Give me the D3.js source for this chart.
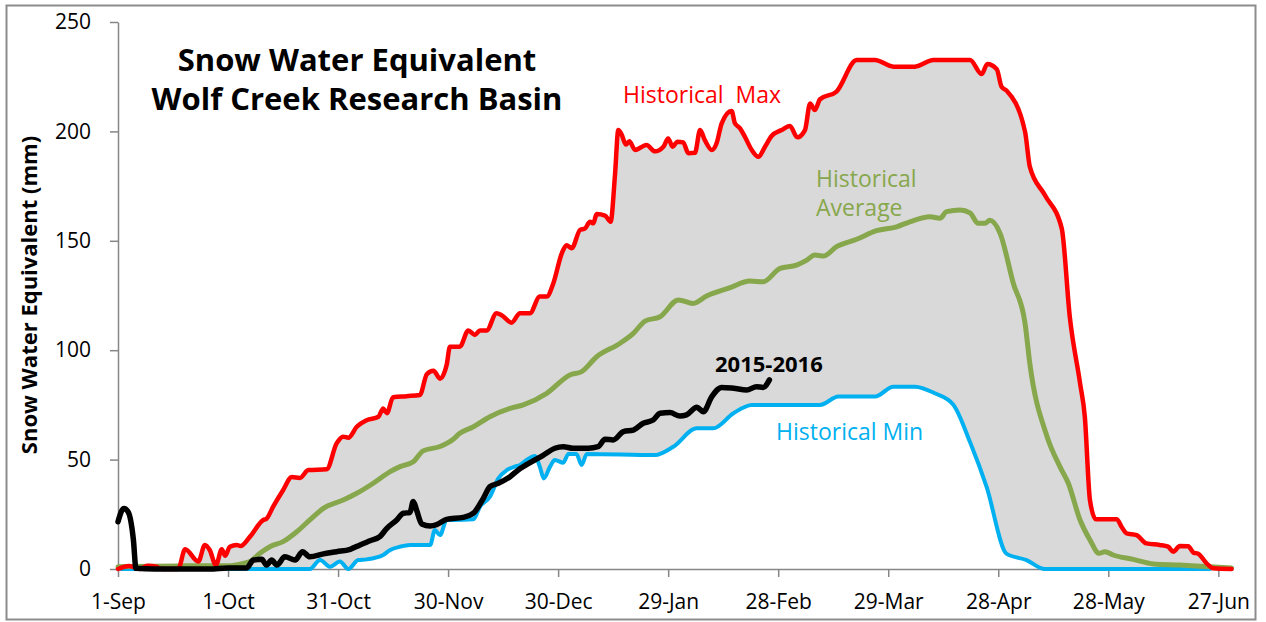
<!DOCTYPE html>
<html lang="en">
<head>
<meta charset="UTF-8">
<title>Snow Water Equivalent - Wolf Creek Research Basin</title>
<script src="https://cdn.jsdelivr.net/npm/d3@7"></script>
<style>
  * { margin: 0; padding: 0; }
  body { background: #fff; }
  svg text { font-family: "Open Sans", Lato, sans-serif; }
</style>
</head>
<body>
<script>
// days counted from 1-Sep-2015, SWE in mm
const dayTicks = [0, 30, 60, 90, 120, 150, 180, 210, 240, 270, 300];
const dayLabels = ["1-Sep", "1-Oct", "31-Oct", "30-Nov", "30-Dec", "29-Jan", "28-Feb", "29-Mar", "28-Apr", "28-May", "27-Jun"];
const sweTicks = [0, 50, 100, 150, 200, 250];

const histMax = [[0,0],[3,1.4],[6,0],[8,1.5],[10.5,1],[12,0],[16.4,0],[18.3,9],[21.9,3.4],[23.7,11],[25,8.7],[26.7,1.8],[28.3,9],[29.2,6],[30.5,10.2],[32.4,11],[33.4,10.5],[36,14.8],[39.6,22.4],[40.5,23],[42.3,28.5],[45,36],[47.4,42],[49.6,41.6],[51.9,45.2],[56.9,45.6],[59.6,57.4],[61.4,60.5],[62.8,60],[65.1,65],[67.8,68],[71,69.6],[72.3,73.4],[73.3,71.2],[75,78.5],[78.7,79],[82.3,79.5],[84.2,89],[86,90.6],[87.8,87],[89.6,93.2],[90.5,101.6],[93.2,101.6],[95.5,109],[97.3,107],[98.7,109],[100.5,109],[103.2,116.9],[104.6,116],[107.3,112.6],[109.6,116.9],[112.3,116.9],[115,124.5],[116.9,124.5],[118.7,130.6],[121,144.3],[122.3,148],[123.7,146.6],[126,155],[127.3,155.6],[128.7,158.7],[129.6,158],[130.5,162.2],[132.8,161.5],[134.3,158.7],[135.5,180],[136.4,200.6],[137.2,199],[138.5,194],[139.4,195.5],[141,191.5],[144.1,193.8],[146.4,190.9],[148.7,193],[150,196.8],[151.2,193],[152.5,195.3],[154.1,195],[155.5,190],[157.3,190.2],[158.7,200.6],[160,196],[161.9,191.5],[163.2,194.6],[164.6,203.7],[167.3,209.3],[168.2,203.7],[169.6,201.4],[170.9,197.6],[172.8,191.5],[174.6,188.4],[176.4,193],[178.2,197.9],[180.9,200.6],[183.2,202.5],[185.2,197.3],[187.3,200.6],[188.7,212.8],[190,209.8],[191.4,214.7],[195.9,218.2],[201.4,232.6],[206.4,232.6],[211.4,229.6],[217.3,229.6],[222.3,232.6],[232.3,232.6],[235.5,226.2],[237,230.8],[239.6,228.4],[240.9,220.4],[242.3,218.6],[247.3,199.9],[248.6,183.9],[252.7,170.9],[257.3,155.7],[259.5,115.3],[262.3,84.9],[263.6,69.6],[265,31.5],[266.6,22.7],[272.3,22.7],[273.6,19.3],[275,16.3],[277.7,15.5],[280.4,11.7],[284,11],[286.3,10.2],[287.7,7.9],[289.5,10.5],[291.8,10.4],[293.2,7.5],[294.5,7],[296.8,2.6],[298.6,0.3],[303.6,0]];

const histAvg = [[0,1],[16,1.4],[30,1.5],[34.2,2.6],[36,3.4],[38.7,7.2],[41.4,10.2],[45,12.5],[48.7,17],[52.3,22.4],[56,27.7],[61.4,31.5],[65.1,34.6],[69.6,39.2],[74.2,44.5],[76.9,46.8],[80.5,49],[83.2,54],[87.8,56],[91.4,59.3],[93.2,62],[96.9,65],[101.4,69.6],[106.9,73.4],[110.5,75],[116.9,80.3],[123.2,88.7],[126.4,90.2],[130.5,97],[136.9,103.2],[140.5,107.7],[143.7,113.3],[147.8,115.3],[152.8,123],[156.8,121.4],[160.5,124.8],[166.9,128.6],[172.3,131.6],[175.9,131.3],[180.5,137.4],[185,138.9],[187.8,141.2],[190,143.5],[192.3,143],[195.9,147.3],[201.4,150.7],[206.8,154.6],[212.3,156.4],[215.9,158.7],[221.4,161],[224.1,160.3],[225.9,163.3],[229.6,164.1],[232.3,162.8],[234.5,158],[236.4,158],[237.7,159.4],[240.5,153.4],[244.1,130.6],[247.3,112.3],[248.6,94],[253.2,61],[256.8,46.8],[259.1,39.2],[262.3,22.4],[265,13.3],[267.5,7.2],[269.1,7.9],[271.3,6.4],[276.8,4.4],[282.3,2.3],[289.5,1.8],[297.7,1],[303.6,0.5]];

const histMin = [[0,0],[52.3,0],[55.1,4.1],[57.8,1],[60.5,3.4],[62.8,0],[65.5,4.1],[67.8,4.4],[72.3,6.4],[74.2,8.7],[76.9,10.2],[79.6,11],[85.1,11],[86.4,17.8],[87.8,15.5],[89.6,22.4],[91.4,22.4],[96.9,22.7],[98.7,28.5],[101.4,33],[103.7,41.4],[106,45.2],[108.2,46.8],[109.6,47.5],[111.4,49.8],[113.7,51.6],[115,46.8],[116.1,41.4],[117.8,46.8],[119.1,49.8],[121.4,48.6],[122.8,52.6],[125,52.6],[126.4,47.5],[127.8,52.6],[146.4,52.1],[151.4,55.9],[157.8,64.3],[162.3,64.3],[167.8,71.2],[172.8,75],[191.4,75],[196.4,78.8],[206.4,78.8],[211.4,83.3],[217.3,83.3],[222.7,80.3],[227.7,75.2],[232.3,58],[236.8,37.6],[242.3,6.9],[247.7,4.1],[252.7,0],[297.7,0]];

const season = [[0,21.6],[1.6,27.7],[2.8,26],[4.2,13.3],[4.9,0.3],[10,0],[25,0],[30,0.5],[35.1,0.5],[36.9,4.1],[39.2,4.4],[40.5,1.8],[41.9,4.1],[43.3,1.8],[45.5,5.6],[48.3,4.1],[50.3,7.9],[52.3,5.6],[56,6.9],[59.6,7.9],[63.3,9],[66,11],[68.7,12.9],[71.4,14.8],[73.3,18.6],[76,22.4],[77.8,25.5],[79.6,25.8],[80.5,30.8],[81.4,27],[82.8,20.6],[85.1,19.7],[86.9,20.3],[89.6,22.7],[94.1,23.6],[96.9,25.5],[99.6,32.3],[101.4,37.6],[103.7,39.2],[106.9,42.2],[109.1,45.2],[113.2,49.4],[116,52.1],[119.1,55.2],[121.4,55.9],[124.1,55.2],[128.2,55.2],[130.9,55.9],[132.8,59.3],[135,59],[137.8,62.8],[140.5,63.5],[143.2,66.6],[145.9,68.1],[147.8,71.2],[150.5,71.5],[153.2,69.9],[155,70.4],[157.8,73.9],[159.6,71.9],[161.9,78.8],[164.6,83],[167.8,82.6],[171.4,81.8],[174.1,83.3],[175.9,83],[177.6,86.4]];

const width = 1266, height = 622;
const svg = d3.select("body").append("svg").attr("width", width).attr("height", height);

// chart frame
svg.append("rect")
    .attr("x", 6.5).attr("y", 5.5)
    .attr("width", 1249).attr("height", 614)
    .attr("fill", "#fff")
    .attr("stroke", "#8c8c8c")
    .attr("stroke-width", 2);

const x = d3.scaleLinear().domain([0, 304]).range([118, 1233]);
const y = d3.scaleLinear().domain([0, 250]).range([569, 22]);

const line = d3.line()
    .x(d => x(d[0]))
    .y(d => y(d[1]))
    .curve(d3.curveMonotoneX);

// grey band between max and min
const band = line(histMax) + line(histMin.slice().reverse()).replace(/^M/, "L") + "Z";
svg.append("path").attr("d", band).attr("fill", "#d9d9d9");

// axes
const yAxis = svg.append("g")
    .attr("transform", "translate(118,0)")
    .call(d3.axisLeft(y).tickValues(sweTicks).tickSize(8).tickSizeOuter(0).tickPadding(19));

const xAxis = svg.append("g")
    .attr("transform", "translate(0,569)")
    .call(d3.axisBottom(x).tickValues(dayTicks).tickFormat((d, i) => dayLabels[i])
        .tickSize(8).tickSizeOuter(0).tickPadding(17));

[yAxis, xAxis].forEach(g => {
    g.select(".domain").attr("stroke", "#868686").attr("stroke-width", 1.5);
    g.selectAll(".tick line").attr("stroke", "#868686").attr("stroke-width", 1.5);
    g.selectAll(".tick text")
        .attr("fill", "#000")
        .style("font-family", "'Open Sans', sans-serif")
        .style("font-size", "21px");
});

// series lines
const series = [
    { data: histMin, color: "#00b0f0", w: 4 },
    { data: histAvg, color: "#87a74c", w: 5 },
    { data: histMax, color: "#ff0000", w: 4.5 },
    { data: season, color: "#000000", w: 5.5 }
];
svg.append("g")
    .selectAll("path")
    .data(series)
    .join("path")
    .attr("d", d => line(d.data))
    .attr("fill", "none")
    .attr("stroke", d => d.color)
    .attr("stroke-width", d => d.w)
    .attr("stroke-linejoin", "round")
    .attr("stroke-linecap", "round");

// titles and labels
svg.append("text")
    .attr("x", 357).attr("y", 71)
    .attr("text-anchor", "middle")
    .style("font-size", "31px").style("font-weight", "bold")
    .text("Snow Water Equivalent");
svg.append("text")
    .attr("x", 357).attr("y", 110)
    .attr("text-anchor", "middle")
    .style("font-size", "31px").style("font-weight", "bold")
    .text("Wolf Creek Research Basin");

svg.append("text")
    .attr("transform", "translate(37,295) rotate(-90)")
    .attr("text-anchor", "middle")
    .style("font-size", "22px").style("font-weight", "bold")
    .text("Snow Water Equivalent (mm)");

svg.append("text")
    .attr("x", 623).attr("y", 103)
    .attr("fill", "#ff0000")
    .style("font-size", "23px").style("white-space", "pre")
    .text("Historical  Max");

svg.append("text")
    .attr("x", 816).attr("y", 187)
    .attr("fill", "#87a74c")
    .style("font-size", "23px")
    .text("Historical");
svg.append("text")
    .attr("x", 816).attr("y", 216)
    .attr("fill", "#87a74c")
    .style("font-size", "23px")
    .text("Average");

svg.append("text")
    .attr("x", 715).attr("y", 372)
    .style("font-size", "22px").style("font-weight", "bold")
    .text("2015-2016");

svg.append("text")
    .attr("x", 776).attr("y", 440)
    .attr("fill", "#00b0f0")
    .style("font-size", "23px")
    .text("Historical Min");
</script>
</body>
</html>
